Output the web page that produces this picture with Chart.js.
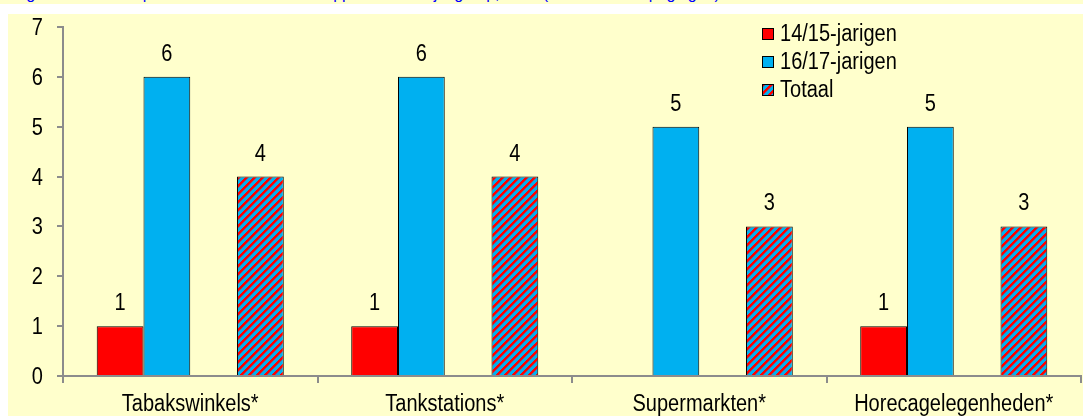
<!DOCTYPE html>
<html>
<head>
<meta charset="utf-8">
<script src="https://cdn.jsdelivr.net/npm/chart.js@4"></script>
<style>
  body { margin: 0; background: #fff; width: 1083px; height: 416px; overflow: hidden; position: relative; }
  #topStrip { position: absolute; left: 0; top: 0; width: 1083px; height: 4px; background: #ffffcc; overflow: hidden; }
  #title { position: absolute; left: 13px; top: -15px; white-space: nowrap; font: 16px "Liberation Sans", Arial, sans-serif; line-height: 18px; color: #0000ff; }
  #box { position: absolute; left: 8px; top: 14px; width: 1075px; height: 402px; background: #ffffcc; }
</style>
</head>
<body>
<div id="topStrip"><div id="title">Figuur 3.1: Aantal positieve tests naar verkooppunt en leeftijdsgroep, 2011 (aantal van 10 pogingen)</div></div>
<div id="box"><canvas id="chart"></canvas></div>
<script>
  // data
  let categories = ["Tabakswinkels*", "Tankstations*", "Supermarkten*", "Horecagelegenheden*"];
  let young = [1, 1, null, 1];     // 14/15-jarigen
  let older = [6, 6, 5, 5];        // 16/17-jarigen
  let total = [4, 4, 3, 3];        // Totaal
  let yTicks = [0, 1, 2, 3, 4, 5, 6, 7];

  let red = "#ff0000";
  let blue = "#00b0f0";
  let font = '23px "Liberation Sans", Arial, sans-serif';
  let squeeze = 0.87;   // narrow look, like Arial Narrow

  // striped fill for Totaal, "/" stripes
  function makeStripes() {
    let pc = document.createElement("canvas");
    pc.width = 8;
    pc.height = 8;
    let c = pc.getContext("2d");
    for (let x = 0; x < 8; x++) {
      for (let y = 0; y < 8; y++) {
        let d = (x + y) % 8;
        c.fillStyle = d < 3 ? red : d === 3 ? "#80587a" : blue;
        c.fillRect(x, y, 1, 1);
      }
    }
    return c.createPattern(pc, "repeat");
  }
  let stripes = makeStripes();

  // condensed text
  function narrowText(ctx, txt, x, y, align) {
    ctx.save();
    ctx.translate(x, y);
    ctx.scale(squeeze, 1);
    ctx.textAlign = align;
    ctx.fillText(txt, 0, 0);
    ctx.restore();
  }

  // tick labels, value labels and legend
  let texts = {
    id: "texts",
    afterDraw(chart) {
      let ctx = chart.ctx;
      ctx.save();
      ctx.font = font;
      ctx.fillStyle = "#000";
      ctx.textBaseline = "alphabetic";

      // y axis
      let ys = chart.scales.y;
      ys.ticks.forEach(t => {
        narrowText(ctx, String(t.value), ys.right - 20, ys.getPixelForValue(t.value) + 8, "right");
      });

      // x axis
      let xs = chart.scales.x;
      categories.forEach((c, i) => {
        narrowText(ctx, c, xs.getPixelForTick(i), xs.top + 35, "center");
      });

      // values above bars
      chart.data.datasets.forEach((ds, i) => {
        if (!ds.label) return;
        chart.getDatasetMeta(i).data.forEach((bar, j) => {
          let v = ds.data[j];
          if (v == null) return;
          narrowText(ctx, String(v), bar.x, bar.y - 16, "center");
        });
      });

      // legend, one item per line
      let y = 20;
      chart.data.datasets.forEach(ds => {
        if (!ds.label) return;
        ctx.fillStyle = ds.backgroundColor;
        ctx.fillRect(754, y - 6, 12, 12);
        ctx.strokeStyle = "#000";
        ctx.lineWidth = 1;
        ctx.strokeRect(754.5, y - 5.5, 11, 11);
        ctx.fillStyle = "#000";
        narrowText(ctx, ds.label, 772, y + 7, "left");
        y += 28;
      });
      ctx.restore();
    }
  };

  new Chart(document.getElementById("chart"), {
    type: "bar",
    data: {
      labels: categories,
      datasets: [
        { label: "14/15-jarigen", data: young, backgroundColor: red },
        { label: "16/17-jarigen", data: older, backgroundColor: blue },
        { label: "", data: [null, null, null, null], backgroundColor: "transparent" },
        { label: "Totaal", data: total, backgroundColor: stripes }
      ]
    },
    options: {
      responsive: true,
      maintainAspectRatio: false,
      animation: false,
      devicePixelRatio: 1,
      layout: { padding: { top: 13, right: 2, left: 0, bottom: 0 }, autoPadding: false },
      datasets: {
        bar: {
          borderColor: "#000",
          borderWidth: 1,
          barPercentage: 1,
          categoryPercentage: 0.735
        }
      },
      plugins: {
        legend: { display: false },
        tooltip: { enabled: false }
      },
      scales: {
        x: {
          afterFit: s => { s.height = 40; },
          border: { color: "#8c8c8c", width: 2 },
          grid: { drawOnChartArea: false, color: "#8c8c8c", lineWidth: 2, tickLength: 7, offset: true },
          ticks: { display: false }
        },
        y: {
          min: 0,
          max: 7,
          afterFit: s => { s.width = 55; },
          afterBuildTicks: s => { s.ticks = yTicks.map(v => ({ value: v })); },
          border: { color: "#8c8c8c", width: 2 },
          grid: { drawOnChartArea: false, color: "#8c8c8c", lineWidth: 2, tickLength: 6 },
          ticks: { display: false }
        }
      }
    },
    plugins: [texts]
  });
</script>
</body>
</html>
